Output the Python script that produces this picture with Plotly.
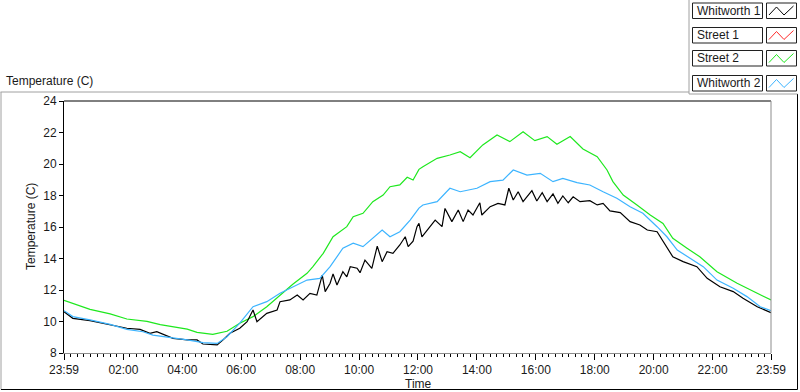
import plotly.graph_objects as go

# ---------------- data (minutes after the 23:59 start, temperature in C) ----------------
street2_min = [0, 53, 94, 128, 169, 196, 251, 271, 303, 332, 358, 385, 413, 440, 466, 495, 507, 528, 548,
               576, 589, 609, 629, 650, 664, 684, 699, 711, 723, 731, 760, 786, 807, 827, 853, 882, 908,
               935, 959, 984, 1004, 1031, 1057, 1086, 1106, 1118, 1139, 1167, 1194, 1220, 1240, 1269,
               1295, 1330, 1371, 1412, 1440]
street2_val = [11.35, 10.77, 10.48, 10.16, 10.01, 9.80, 9.52, 9.31, 9.18, 9.38, 9.89, 10.31, 10.94, 11.68,
               12.36, 13.06, 13.48, 14.33, 15.38, 16.02, 16.65, 16.87, 17.61, 18.03, 18.56, 18.67, 19.16,
               18.98, 19.66, 19.83, 20.36, 20.57, 20.78, 20.40, 21.21, 21.84, 21.42, 22.05, 21.48, 21.74,
               21.25, 21.74, 20.95, 20.46, 19.62, 18.88, 18.03, 17.40, 16.76, 16.23, 15.28, 14.65, 14.11,
               13.16, 12.43, 11.79, 11.37]

whit2_min = [0, 18, 53, 94, 128, 161, 181, 210, 251, 283, 312, 332, 358, 385, 413, 440, 466, 495, 521, 542,
             568, 589, 609, 629, 648, 664, 684, 705, 723, 731, 760, 786, 807, 841, 868, 894, 915, 943, 970,
             996, 1016, 1045, 1071, 1098, 1126, 1153, 1179, 1208, 1228, 1249, 1275, 1302, 1330, 1363, 1391,
             1418, 1440]
whit2_val = [10.69, 10.31, 10.10, 9.82, 9.50, 9.35, 9.14, 9.03, 8.83, 8.66, 8.61, 9.03, 9.89, 10.94, 11.26,
             11.79, 12.21, 12.63, 12.74, 13.48, 14.65, 14.97, 14.75, 15.28, 15.81, 15.38, 15.70, 16.44,
             17.20, 17.40, 17.61, 18.46, 18.24, 18.46, 18.88, 18.98, 19.62, 19.30, 19.41, 18.88, 19.09,
             18.82, 18.67, 18.24, 17.82, 17.29, 16.87, 16.02, 15.38, 14.54, 14.01, 13.48, 12.63, 12.11,
             11.58, 10.94, 10.69]

whit1_min = [0, 18, 53, 94, 128, 155, 175, 189, 222, 251, 271, 283, 312, 324, 338, 358, 373, 385, 393, 413,
             434, 440, 460, 475, 487, 501, 515, 526, 532, 542, 548, 556, 568, 576, 583, 597, 603, 613, 627,
             638, 648, 658, 670, 684, 695, 701, 711, 719, 723, 729, 746, 756, 770, 776, 790, 803, 813, 823,
             833, 847, 851, 868, 884, 898, 906, 915, 925, 935, 953, 963, 974, 984, 996, 1006, 1016, 1027,
             1037, 1051, 1071, 1086, 1098, 1112, 1133, 1153, 1173, 1188, 1208, 1220, 1240, 1261, 1289,
             1310, 1336, 1363, 1383, 1412, 1440]
whit1_val = [10.62, 10.20, 10.05, 9.78, 9.57, 9.50, 9.25, 9.35, 8.93, 8.83, 8.83, 8.57, 8.51, 8.83, 9.25,
             9.57, 9.99, 10.73, 9.99, 10.52, 10.73, 11.26, 11.37, 11.68, 11.37, 11.79, 11.68, 12.95, 11.90,
             12.43, 13.02, 12.32, 13.16, 12.84, 13.48, 13.38, 13.10, 13.90, 13.38, 14.79, 13.80, 14.43,
             14.33, 14.86, 15.38, 14.75, 15.10, 16.02, 16.23, 15.38, 16.02, 16.44, 16.02, 17.18, 16.34,
             17.08, 16.34, 17.08, 16.76, 17.54, 16.76, 17.29, 17.50, 17.40, 18.46, 17.71, 18.24, 17.61,
             18.31, 17.65, 18.18, 17.61, 18.10, 17.50, 17.97, 17.54, 17.92, 17.61, 17.67, 17.40, 17.50,
             17.02, 16.91, 16.34, 16.13, 15.81, 15.70, 15.13, 14.11, 13.80, 13.48, 12.74, 12.21, 11.90,
             11.47, 10.94, 10.56]

street1_min = []
street1_val = []

series_names = ["Whitworth 1", "Street 1", "Street 2", "Whitworth 2"]
series_colors = ["#000000", "#ff2a2a", "#1ee81e", "#3cb4ff"]

tick_minutes = [0, 121, 241, 361, 481, 601, 721, 841, 961, 1081, 1201, 1321, 1440]
tick_labels = ["23:59", "02:00", "04:00", "06:00", "08:00", "10:00", "12:00", "14:00", "16:00",
               "18:00", "20:00", "22:00", "23:59"]
y_ticks = [8, 10, 12, 14, 16, 18, 20, 22, 24]

# ---------------- layout helpers (pixel -> paper) ----------------
W, H = 800, 392
L, R, T, B = 64, 771, 101, 353


def px(x):
    return (x - L) / (R - L)


def py(y):
    return (B - y) / (B - T)


FONT = "Liberation Sans"
TXT = "#1a1a1a"

fig = go.Figure()
data = [(whit1_min, whit1_val), (street1_min, street1_val), (street2_min, street2_val), (whit2_min, whit2_val)]
order = [2, 0, 3, 1]
for i in order:
    xs, ys = data[i]
    fig.add_trace(go.Scatter(x=xs, y=ys, mode="lines", name=series_names[i],
                             line=dict(color=series_colors[i], width=1.2), showlegend=False))

minor_vals = []
for a, b in zip(tick_minutes[:-1], tick_minutes[1:]):
    for k in range(1, 9):
        minor_vals.append(a + (b - a) * k / 9)

fig.update_layout(
    width=W, height=H,
    margin=dict(l=L, r=W - R, t=T, b=H - B),
    paper_bgcolor="white", plot_bgcolor="white",
    showlegend=False,
    font=dict(family=FONT, size=12, color=TXT),
    xaxis=dict(range=[0, 1440], tickmode="array", tickvals=tick_minutes, ticktext=tick_labels,
               showgrid=False, zeroline=False, showline=True, linecolor="#8c8c8c", linewidth=1,
               ticks="outside", ticklen=6, tickwidth=1, tickcolor="#000000",
               tickfont=dict(family=FONT, size=12, color=TXT),
               minor=dict(tickmode="array", tickvals=minor_vals, ticks="outside", ticklen=3,
                          tickcolor="#000000", tickwidth=1, showgrid=False)),
    yaxis=dict(range=[8, 24], tickmode="array", tickvals=y_ticks,
               showgrid=False, zeroline=False, showline=True, linecolor="#000000", linewidth=1,
               ticks="outside", ticklen=4, tickwidth=1, tickcolor="#000000",
               tickfont=dict(family=FONT, size=12, color=TXT)),
)

shapes = []
# plot frame top (black) and right (grey)
shapes.append(dict(type="line", xref="paper", yref="paper", x0=0, x1=1, y0=1, y1=1,
                   line=dict(color="#000000", width=1)))
shapes.append(dict(type="line", xref="paper", yref="paper", x0=1, x1=1, y0=0, y1=1,
                   line=dict(color="#8c8c8c", width=1)))
# outer panel frame
frame = [((0.5, 92), (689, 92), "#a0a0a0"), ((1, 92), (1, 389.5), "#a0a0a0"),
         ((1, 389.5), (797.5, 389.5), "#000000"), ((797.5, 94), (797.5, 389.5), "#000000"),
         ((689, 0), (689, 94), "#a0a0a0"), ((689, 94), (797.5, 94), "#a0a0a0")]
for (x0, y0), (x1, y1), c in frame:
    shapes.append(dict(type="line", xref="paper", yref="paper", x0=px(x0), x1=px(x1), y0=py(y0), y1=py(y1),
                       line=dict(color=c, width=1)))

annotations = []
# legend boxes
row_tops = [3, 27.5, 50.5, 75.5]
row_h = 15.5
for i, top in enumerate(row_tops):
    shapes.append(dict(type="rect", xref="paper", yref="paper", x0=px(692.5), x1=px(762.5),
                       y0=py(top + row_h), y1=py(top), line=dict(color="#202020", width=1),
                       fillcolor="white"))
    shapes.append(dict(type="rect", xref="paper", yref="paper", x0=px(766.5), x1=px(796.5),
                       y0=py(top + row_h), y1=py(top), line=dict(color="#202020", width=1),
                       fillcolor="white"))
    pts = [(769, top + 12), (776.5, top + 4), (784, top + 12), (793.5, top + 3)]
    path = "M " + " L ".join(f"{px(a):.5f},{py(b):.5f}" for a, b in pts)
    shapes.append(dict(type="path", xref="paper", yref="paper", path=path,
                       line=dict(color=series_colors[i], width=1)))
    annotations.append(dict(text=series_names[i], xref="paper", yref="paper", x=px(694.5),
                            y=py(top + row_h / 2), xanchor="left", yanchor="middle", showarrow=False,
                            font=dict(family=FONT, size=12, color=TXT)))

annotations.append(dict(text="Temperature (C)", xref="paper", yref="paper", x=px(4), y=py(80.5),
                        xanchor="left", yanchor="middle", showarrow=False,
                        font=dict(family=FONT, size=12, color=TXT)))
annotations.append(dict(text="Temperature (C)", xref="paper", yref="paper", x=px(31), y=py(227),
                        xanchor="center", yanchor="middle", textangle=-90, showarrow=False,
                        font=dict(family=FONT, size=12, color=TXT)))
annotations.append(dict(text="Time", xref="paper", yref="paper", x=px(418), y=py(384),
                        xanchor="center", yanchor="middle", showarrow=False,
                        font=dict(family=FONT, size=12, color=TXT)))

fig.update_layout(shapes=shapes, annotations=annotations)
fig.write_html("out.html", config={"displayModeBar": False},
               post_script="document.body.style.margin='0';document.body.style.padding='0';")
